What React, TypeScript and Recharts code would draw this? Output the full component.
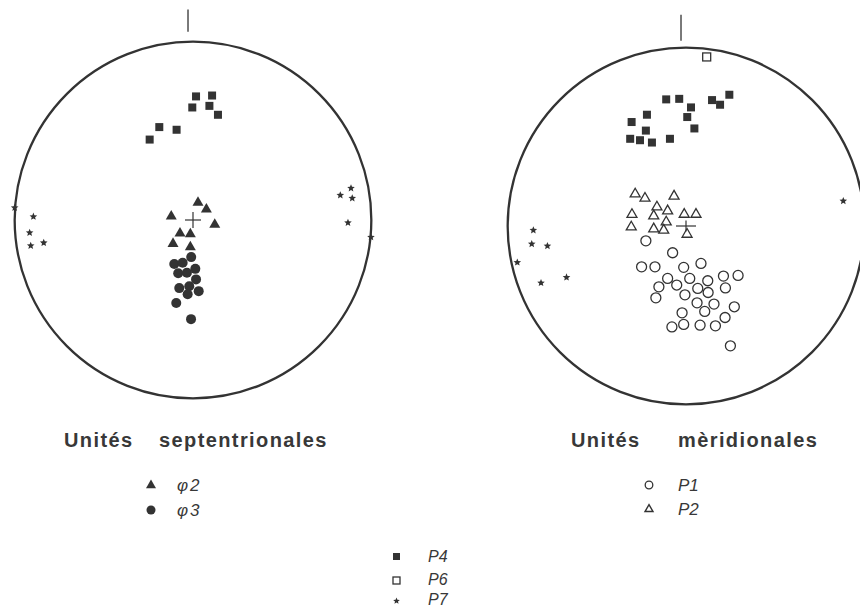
import React from "react";
import { ScatterChart, Scatter, XAxis, YAxis, ReferenceDot, ReferenceLine } from "recharts";

// stereonet coordinates, unit radius, north up
const nordP4 = [
  [0.017, 0.693], [0.107, 0.698], [-0.004, 0.631], [0.092, 0.64],
  [0.14, 0.59], [-0.189, 0.521], [-0.092, 0.506], [-0.243, 0.451],
];
const nordPhi2 = [
  [0.028, 0.099], [0.075, 0.062], [-0.122, 0.022], [0.122, -0.024],
  [-0.073, -0.073], [-0.015, -0.077], [-0.112, -0.131], [-0.015, -0.15],
];
const nordPhi3 = [
  [-0.01, -0.208], [-0.105, -0.247], [-0.058, -0.24], [-0.083, -0.299],
  [-0.034, -0.296], [0.013, -0.274], [0.017, -0.333], [-0.077, -0.382],
  [-0.021, -0.371], [-0.03, -0.416], [0.032, -0.399], [-0.094, -0.465],
  [-0.011, -0.556],
];
const nordP7 = [
  [-1.0, 0.069], [-0.895, 0.019], [-0.916, -0.071], [-0.91, -0.144],
  [-0.837, -0.128], [0.886, 0.178], [0.826, 0.139], [0.893, 0.122],
  [0.869, -0.015], [0.998, -0.096],
];

const sudP4 = [
  [-0.111, 0.71], [-0.038, 0.713], [0.028, 0.665], [0.007, 0.611],
  [0.047, 0.547], [0.146, 0.706], [0.191, 0.68], [0.243, 0.736],
  [-0.219, 0.624], [-0.305, 0.583], [-0.225, 0.535], [-0.313, 0.489],
  [-0.258, 0.481], [-0.191, 0.468], [-0.09, 0.489],
];
const sudP6 = [[0.116, 0.948]];
const sudP2 = [
  [-0.285, 0.181], [-0.23, 0.157], [-0.067, 0.169], [-0.163, 0.108],
  [-0.103, 0.086], [-0.303, 0.066], [-0.181, 0.058], [-0.01, 0.067],
  [0.056, 0.067], [-0.111, 0.024], [-0.307, -0.004], [-0.181, -0.015],
  [-0.125, -0.022], [0.006, -0.045],
];
const sudP1 = [
  [-0.225, -0.083], [-0.075, -0.15], [-0.249, -0.229], [-0.174, -0.229],
  [-0.013, -0.232], [0.084, -0.21], [-0.103, -0.294], [0.021, -0.294],
  [0.122, -0.307], [0.21, -0.281], [0.292, -0.277], [-0.152, -0.341],
  [-0.052, -0.331], [0.066, -0.35], [0.124, -0.373], [0.221, -0.347],
  [-0.169, -0.403], [-0.006, -0.386], [0.062, -0.431], [0.157, -0.438],
  [0.271, -0.453], [-0.022, -0.487], [0.105, -0.479], [0.219, -0.513],
  [-0.079, -0.566], [-0.013, -0.552], [0.079, -0.556], [0.165, -0.56],
  [0.249, -0.672],
];
const sudP7 = [
  [-0.856, -0.024], [-0.865, -0.101], [-0.777, -0.112], [-0.946, -0.204],
  [-0.813, -0.319], [-0.67, -0.288], [0.882, 0.14],
];

const centre = [[0, 0]];

const INK = "#333";
const SIDE = 428;
const DOM: [number, number] = [-1.2, 1.2];
const R = SIDE / 2.4;

const pts = (a: number[][]) => a.map(([x, y]) => ({ x, y }));

const triPath = (cx: number, cy: number, s: number) =>
  `M${cx},${cy - s * 0.55} L${cx + s / 2},${cy + s * 0.32} L${cx - s / 2},${cy + s * 0.32}Z`;

const starPath = (cx: number, cy: number, ro: number) => {
  let d = "";
  for (let i = 0; i < 10; i++) {
    const r = i % 2 === 0 ? ro : ro * 0.45;
    const a = -Math.PI / 2 + (i * Math.PI) / 5;
    d += `${i === 0 ? "M" : "L"}${cx + r * Math.cos(a)},${cy + r * Math.sin(a)}`;
  }
  return d + "Z";
};

const FilledDot = (p: any) => <circle cx={p.cx} cy={p.cy} r={5} fill={INK} />;
const OpenDot = (p: any) => <circle cx={p.cx} cy={p.cy} r={5} fill="none" stroke={INK} strokeWidth={1.3} />;
const FilledTri = (p: any) => <path d={triPath(p.cx, p.cy, 11)} fill={INK} />;
const OpenTri = (p: any) => <path d={triPath(p.cx, p.cy, 10)} fill="none" stroke={INK} strokeWidth={1.3} />;
const FilledSq = (p: any) => <rect x={p.cx - 4} y={p.cy - 4} width={8} height={8} fill={INK} />;
const OpenSq = (p: any) => <rect x={p.cx - 4} y={p.cy - 4} width={8} height={8} fill="#fff" stroke={INK} strokeWidth={1.3} />;
const Star = (p: any) => <path d={starPath(p.cx, p.cy, 4)} fill={INK} />;
const Cross = (w: number, h: number) => (p: any) => (
  <g stroke={INK} strokeWidth={1.2}>
    <line x1={p.cx - w} y1={p.cy} x2={p.cx + w} y2={p.cy} />
    <line x1={p.cx} y1={p.cy - h} x2={p.cx} y2={p.cy + h} />
  </g>
);

type Serie = { name: string; data: number[][]; shape: any };

function Stereonet({ left, top, tick, series }: { left: number; top: number; tick: number[]; series: Serie[] }) {
  return (
    <div style={{ position: "absolute", left, top }}>
      <ScatterChart width={SIDE} height={SIDE} margin={{ top: 0, right: 0, bottom: 0, left: 0 }}>
        <XAxis type="number" dataKey="x" domain={DOM} allowDataOverflow hide />
        <YAxis type="number" dataKey="y" domain={DOM} allowDataOverflow hide />
        <ReferenceDot x={0} y={0} r={R} fill="none" stroke={INK} strokeWidth={2.3} ifOverflow="visible" />
        <ReferenceLine
          segment={[{ x: tick[0], y: tick[1] }, { x: tick[0], y: tick[2] }]}
          stroke={INK}
          strokeWidth={1.3}
          ifOverflow="visible"
        />
        {series.map((s) => (
          <Scatter key={s.name} name={s.name} data={pts(s.data)} shape={s.shape} isAnimationActive={false} />
        ))}
      </ScatterChart>
    </div>
  );
}

const titleStyle = { fontFamily: "'Liberation Sans', Arial, sans-serif", fontWeight: 700, fontSize: 20, letterSpacing: 1.4, fill: "#383838" } as const;
const keyStyle = { fontFamily: "'Liberation Sans', Arial, sans-serif", fontStyle: "italic", fontSize: 17, fill: "#383838" } as const;

export default function App() {
  return (
    <div style={{ position: "absolute", left: 0, top: 0, width: 860, height: 609, overflow: "hidden", background: "#fff" }}>
      <Stereonet
        left={-21}
        top={6}
        tick={[-0.028, 1.056, 1.18]}
        series={[
          { name: "P4", data: nordP4, shape: FilledSq },
          { name: "P7", data: nordP7, shape: Star },
          { name: "φ2", data: nordPhi2, shape: FilledTri },
          { name: "φ3", data: nordPhi3, shape: FilledDot },
          { name: "centre", data: centre, shape: Cross(8, 8) },
        ]}
      />
      <Stereonet
        left={472}
        top={12}
        tick={[-0.028, 1.039, 1.185]}
        series={[
          { name: "P4", data: sudP4, shape: FilledSq },
          { name: "P6", data: sudP6, shape: OpenSq },
          { name: "P7", data: sudP7, shape: Star },
          { name: "P2", data: sudP2, shape: OpenTri },
          { name: "P1", data: sudP1, shape: OpenDot },
          { name: "centre", data: centre, shape: Cross(10, 5.5) },
        ]}
      />
      <svg width={860} height={609} style={{ position: "absolute", left: 0, top: 0, pointerEvents: "none" }}>
        <text x={64} y={447} style={titleStyle}>Unités</text>
        <text x={159} y={447} style={titleStyle}>septentrionales</text>
        <text x={571} y={447} style={titleStyle}>Unités</text>
        <text x={678} y={447} style={titleStyle}>mèridionales</text>

        <path d={triPath(151, 485, 10)} fill={INK} />
        <text x={177} y={491} style={keyStyle} letterSpacing={2}>φ2</text>
        <circle cx={151} cy={510} r={4.5} fill={INK} />
        <text x={177} y={516} style={keyStyle} letterSpacing={2}>φ3</text>

        <circle cx={649} cy={485} r={3.8} fill="none" stroke={INK} strokeWidth={1.3} />
        <text x={678} y={491} style={keyStyle}>P1</text>
        <path d={triPath(649, 509, 8)} fill="none" stroke={INK} strokeWidth={1.4} />
        <text x={678} y={515} style={keyStyle}>P2</text>

        <rect x={393} y={553} width={7} height={7} fill={INK} />
        <text x={428} y={562} style={{ ...keyStyle, fontSize: 16 }}>P4</text>
        <rect x={393} y={577} width={7} height={7} fill="none" stroke={INK} strokeWidth={1.3} />
        <text x={428} y={585} style={{ ...keyStyle, fontSize: 16 }}>P6</text>
        <path d={starPath(396.5, 601, 3.5)} fill={INK} />
        <text x={428} y={605} style={{ ...keyStyle, fontSize: 16 }}>P7</text>
      </svg>
    </div>
  );
}
